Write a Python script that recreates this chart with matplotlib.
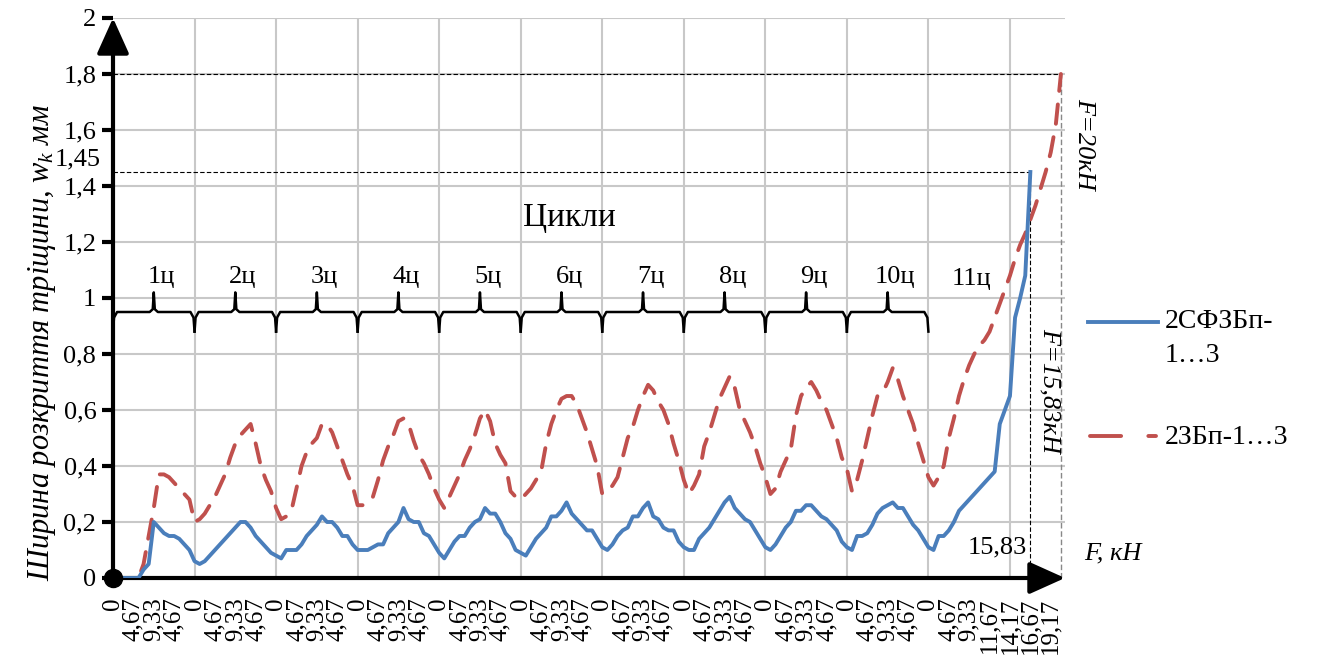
import numpy as np
import matplotlib.pyplot as plt
from matplotlib.lines import Line2D

plt.rcParams['font.family'] = ['Liberation Serif', 'DejaVu Serif']
plt.rcParams['mathtext.fontset'] = 'custom'
plt.rcParams['mathtext.it'] = 'Liberation Serif:italic'
plt.rcParams['mathtext.rm'] = 'Liberation Serif'

# crack width, mm, per load step (16 steps per cycle, 11th cycle to failure)
blue = [0, 0, 0, 0, 0, 0, 0.03, 0.05, 0.2, 0.18, 0.16, 0.15, 0.15, 0.14, 0.12, 0.1,
        0.06, 0.05, 0.06, 0.08, 0.1, 0.12, 0.14, 0.16, 0.18, 0.2, 0.2, 0.18, 0.15, 0.13, 0.11, 0.09,
        0.08, 0.07, 0.1, 0.1, 0.1, 0.12, 0.15, 0.17, 0.19, 0.22, 0.2, 0.2, 0.18, 0.15, 0.15, 0.12,
        0.1, 0.1, 0.1, 0.11, 0.12, 0.12, 0.16, 0.18, 0.2, 0.25, 0.21, 0.2, 0.2, 0.16, 0.15, 0.12,
        0.09, 0.07, 0.1, 0.13, 0.15, 0.15, 0.18, 0.2, 0.21, 0.25, 0.23, 0.23, 0.2, 0.16, 0.14, 0.1,
        0.09, 0.08, 0.11, 0.14, 0.16, 0.18, 0.22, 0.22, 0.24, 0.27, 0.23, 0.21, 0.19, 0.17, 0.17, 0.14,
        0.11, 0.1, 0.12, 0.15, 0.17, 0.18, 0.22, 0.22, 0.25, 0.27, 0.22, 0.21, 0.18, 0.17, 0.17, 0.13,
        0.11, 0.1, 0.1, 0.14, 0.16, 0.18, 0.21, 0.24, 0.27, 0.29, 0.25, 0.23, 0.21, 0.2, 0.17, 0.14,
        0.11, 0.1, 0.12, 0.15, 0.18, 0.2, 0.24, 0.24, 0.26, 0.26, 0.24, 0.22, 0.21, 0.19, 0.17, 0.13,
        0.11, 0.1, 0.15, 0.15, 0.16, 0.19, 0.23, 0.25, 0.26, 0.27, 0.25, 0.25, 0.22, 0.19, 0.17, 0.14,
        0.11, 0.1, 0.15, 0.15, 0.17, 0.2, 0.24, 0.26, 0.28, 0.3, 0.32, 0.34, 0.36, 0.38, 0.55, 0.6,
        0.65, 0.93, 1.0, 1.08, 1.45]

red = [0, 0, 0, 0, 0, 0, 0.05, 0.15, 0.25, 0.37, 0.37, 0.36, 0.34, 0.32, 0.3, 0.28,
       0.2, 0.21, 0.23, 0.26, 0.29, 0.33, 0.37, 0.43, 0.48, 0.51, 0.53, 0.55, 0.48, 0.4, 0.35, 0.31,
       0.25, 0.21, 0.22, 0.24, 0.32, 0.4, 0.45, 0.48, 0.5, 0.55, 0.55, 0.52, 0.47, 0.42, 0.37, 0.33,
       0.26, 0.26, 0.28, 0.29, 0.35, 0.42, 0.47, 0.51, 0.56, 0.57, 0.55, 0.49, 0.44, 0.41, 0.37, 0.32,
       0.28, 0.25, 0.29, 0.33, 0.37, 0.42, 0.46, 0.51, 0.57, 0.6, 0.56, 0.48, 0.44, 0.41, 0.31, 0.29,
       0.28, 0.3, 0.32, 0.35, 0.38, 0.48, 0.55, 0.6, 0.64, 0.65, 0.65, 0.62, 0.57, 0.52, 0.46, 0.4,
       0.3, 0.31, 0.33, 0.36, 0.43, 0.5, 0.54, 0.6, 0.65, 0.69, 0.67, 0.63, 0.6, 0.55, 0.48, 0.42,
       0.35, 0.3, 0.33, 0.37, 0.47, 0.52, 0.58, 0.64, 0.68, 0.72, 0.68, 0.6, 0.56, 0.52, 0.47, 0.41,
       0.36, 0.3, 0.32, 0.38, 0.42, 0.46, 0.58, 0.65, 0.68, 0.7, 0.67, 0.63, 0.6, 0.55, 0.5, 0.43,
       0.39, 0.31, 0.35, 0.42, 0.5, 0.58, 0.65, 0.66, 0.7, 0.75, 0.71, 0.65, 0.6, 0.55, 0.48, 0.42,
       0.36, 0.33, 0.36, 0.4, 0.5, 0.57, 0.65, 0.71, 0.76, 0.8, 0.83, 0.85, 0.88, 0.93, 0.98, 1.03,
       1.08, 1.14, 1.19, 1.23, 1.28, 1.33, 1.39, 1.45, 1.52, 1.62, 1.8]

cycle_ticks = ["0", "4,67", "9,33", "4,67"]
last_ticks = ["0", "4,67", "9,33", "11,67", "14,17", "16,67", "19,17"]
cycle_names = ["1ц", "2ц", "3ц", "4ц", "5ц", "6ц", "7ц", "8ц", "9ц", "10ц", "11ц"]
steps = 16

xb = np.arange(len(blue))
xr = np.arange(len(red))

fig = plt.figure(figsize=(13.22, 6.57), dpi=100)
ax = fig.add_axes([113 / 1322, 1 - 578 / 657, 952 / 1322, 560 / 657])
ax.set_xlim(0, 186.8)
ax.set_ylim(0, 2)

# grid
for k in range(1, 12):
    ax.axvline(k * steps, color='#c8c8c8', lw=1.5, zorder=0)
for v in np.arange(0.2, 2.01, 0.2):
    ax.axhline(v, color='#c8c8c8', lw=1.5, zorder=0)

ax.plot(xr, red, color='#c0504d', lw=2.8, ls=(0, (5, 3.5)), dash_capstyle='round', zorder=3)
ax.plot(xb, blue, color='#4a7ebb', lw=2.8, zorder=4)

# reference lines
xe_b, xe_r = xb[-1], xr[-1]
ax.plot([0, xe_r], [red[-1], red[-1]], color='black', lw=0.8, ls=(0, (4, 2)), zorder=2)
ax.plot([0, xe_b], [blue[-1], blue[-1]], color='black', lw=0.8, ls=(0, (4, 2)), zorder=2)
ax.plot([xe_b, xe_b], [0, blue[-1]], color='black', lw=0.8, ls=(0, (4, 2)), zorder=2)
ax.plot([xe_r, xe_r], [0, red[-1]], color='#888888', lw=1.0, ls=(0, (4, 2)), zorder=2)

# axes with arrows
for s in ax.spines.values():
    s.set_visible(False)
ax.annotate('', xy=(0, 1.0), xytext=(0, 0), xycoords='axes fraction',
            arrowprops=dict(arrowstyle='-|>,head_length=1.0,head_width=0.45', lw=3, color='black',
                            mutation_scale=22, shrinkA=0, shrinkB=0), annotation_clip=False)
ax.annotate('', xy=(1.0, 0), xytext=(0, 0), xycoords='axes fraction',
            arrowprops=dict(arrowstyle='-|>,head_length=1.0,head_width=0.45', lw=3, color='black',
                            mutation_scale=22, shrinkA=0, shrinkB=0), annotation_clip=False)
ax.plot([0], [0], 'o', color='black', ms=13, clip_on=False, zorder=6)

# ticks
yt = np.arange(0, 2.01, 0.2)
ax.set_yticks(yt)
ax.set_yticklabels([f"{v:.1f}".rstrip('0').rstrip('.').replace('.', ',') for v in yt], fontsize=19)
ax.tick_params(axis='y', length=8, width=3, direction='out', pad=4)
ax.text(-2.35, blue[-1] + 0.045, "1,45", ha='right', va='center', fontsize=19)

xt = list(range(0, 160, 4))
xl = cycle_ticks * 10
xt += [160 + 4 * i for i in range(len(last_ticks))]
xl += last_ticks
ax.set_xticks(xt)
ax.set_xticklabels(xl, rotation=90, fontsize=18)
ax.tick_params(axis='x', length=0, pad=14)

# braces for cycles
yb, yd, yu = 0.95, 0.88, 1.02
for k in range(10):
    a, b = k * steps, (k + 1) * steps
    m = (a + b) / 2
    px = [a, a + 0.2, a + 0.8, m - 0.8, m - 0.2, m, m + 0.2, m + 0.8, b - 0.8, b - 0.2, b]
    py = [yd, yb - 0.02, yb, yb, yb + 0.01, yu, yb + 0.01, yb, yb, yb - 0.02, yd]
    ax.plot(px, py, color='black', lw=1.8, zorder=5)
    ax.text(m + 1.5, yu + 0.015, cycle_names[k], ha='center', va='bottom', fontsize=19)
ax.text(10 * steps + 8.5, 1.03, cycle_names[10], ha='center', va='bottom', fontsize=19)
ax.text(89.5, 1.285, "Цикли", ha='center', va='center', fontsize=24)

ax.text(173.5, 0.11, "15,83", ha='center', va='center', fontsize=19)
ax.text(xe_r + 4.5, 1.55, "F=20кН", rotation=-90, ha='center', va='center', fontsize=19, style='italic')
ax.text(xe_b + 3.7, 0.67, "F=15,83кН", rotation=-90, ha='center', va='center', fontsize=19, style='italic')
ax.text(1.02, 0.043, "F, кН", transform=ax.transAxes, ha='left', va='center', fontsize=19, style='italic')

ax.set_ylabel("Ширина розкриття тріщини, $w_k$ мм", fontsize=22, style='italic')
ax.yaxis.set_label_coords(-0.058, 0.42)

# legend drawn by hand to keep Excel-like wrapping
fig.add_artist(Line2D([1088 / 1322, 1158 / 1322], [1 - 322 / 657] * 2, color='#4a7ebb', lw=2.8))
fig.text(1165 / 1322, 1 - 322 / 657, "2СФЗБп-", ha='left', va='center', fontsize=20)
fig.text(1165 / 1322, 1 - 356 / 657, "1…3", ha='left', va='center', fontsize=20)
fig.add_artist(Line2D([1090 / 1322, 1156 / 1322], [1 - 436 / 657] * 2, color='#c0504d', lw=2.8,
                      ls=(0, (8, 7)), dash_capstyle='round'))
fig.text(1165 / 1322, 1 - 437 / 657, "2ЗБп-1…3", ha='left', va='center', fontsize=20)

fig.savefig("out.png", dpi=100)
